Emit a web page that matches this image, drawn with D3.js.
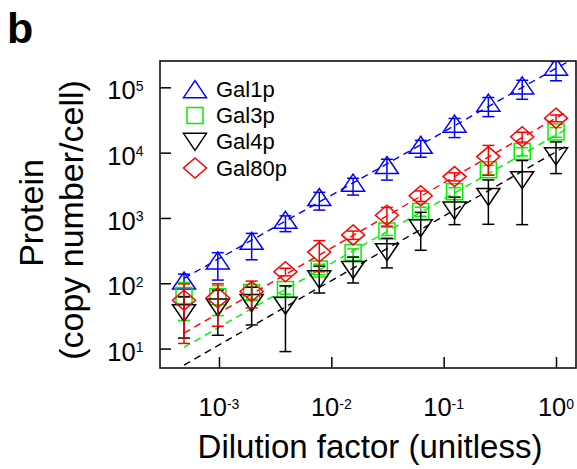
<!DOCTYPE html>
<html>
<head>
<meta charset="utf-8">
<script src="https://cdn.jsdelivr.net/npm/d3@7"></script>
<style>
  html, body { margin: 0; padding: 0; background: #fff; }
  svg { display: block; }
  text { font-family: "Liberation Sans", Arial, Helvetica, sans-serif; fill: #000; }
</style>
</head>
<body>
<script>
// dilution factors (2^-11 .. 2^0)
var dilution = [0.00048828125, 0.0009765625, 0.001953125, 0.00390625, 0.0078125,
  0.015625, 0.03125, 0.0625, 0.125, 0.25, 0.5, 1];

var seriesNames = ['Gal1p', 'Gal3p', 'Gal4p', 'Gal80p'];
var seriesColors = ['#0000ff', '#00f000', '#000000', '#ff0000'];
var seriesShapes = ['triUp', 'square', 'triDown', 'diamond'];

// mean copy number per cell
var gal1Mean = [100, 203, 405, 847, 1894, 3144, 5862, 11960, 25190, 52730, 96940, 187500];
var gal3Mean = [65, 62, 72, 80, 166, 296, 630, 1260, 2510, 5480, 10400, 20700];
var gal4Mean = [38.5, 47, 55, 50, 127, 176, 330, 770, 1430, 2310, 4180, 9680];
var gal80Mean = [55, 60, 75, 150, 300, 550, 1100, 2190, 4300, 8700, 17500, 33700];

// standard deviations
var gal1Sd = [38, 91, 176, 230, 574, 904, 2062, 3450, 8190, 17130, 31340, 61500];
var gal3Sd = [38, 30, 15, 12, 30, 40, 90, 200, 400, 900, 1500, 3500];
var gal4Sd = [24, 31, 32, 41, 56, 75, 158, 450, 640, 1510, 3390, 4900];
var gal80Sd = [43, 38, 33, 20, 150, 80, 350, 400, 600, 4200, 3000, 4000];

// fitted lines: end points
var fitX = [0.00048828125, 1.26];
var gal1Fit = [119, 244000];
var gal3Fit = [10.5, 23300];
var gal4Fit = [5.6, 12900];
var gal80Fit = [17.2, 42700];

var xTicks = [1e-3, 1e-2, 1e-1, 1];
var xTickExp = ['-3', '-2', '-1', '0'];
var yTicks = [1e1, 1e2, 1e3, 1e4, 1e5];
var yTickExp = ['1', '2', '3', '4', '5'];

var means = [gal1Mean, gal3Mean, gal4Mean, gal80Mean];
var sds = [gal1Sd, gal3Sd, gal4Sd, gal80Sd];
var fits = [gal1Fit, gal3Fit, gal4Fit, gal80Fit];

var W = 577, H = 469;
var box = {left: 160, right: 576, top: 61, bottom: 368};

var svg = d3.select('body').append('svg')
  .attr('width', W).attr('height', H);

var x = d3.scaleLog()
  .domain([Math.pow(10, -3.525), Math.pow(10, 0.178)])
  .range([box.left, box.right]);
var y = d3.scaleLog()
  .domain([Math.pow(10, 0.703), Math.pow(10, 5.403)])
  .range([box.bottom, box.top]);

svg.append('defs').append('clipPath').attr('id', 'plotClip')
  .append('rect')
  .attr('x', box.left).attr('y', box.top)
  .attr('width', box.right - box.left).attr('height', box.bottom - box.top);

// marker shapes; triangles are centred on their centroid
function shapePath(kind) {
  if (kind === 'triUp') return 'M0,-11.3L11.5,5.7L-11.5,5.7Z';
  if (kind === 'triDown') return 'M0,11.3L11.5,-5.7L-11.5,-5.7Z';
  if (kind === 'square') return 'M-8,-8H8V8H-8Z';
  return 'M0,-10L11.5,0L0,10L-11.5,0Z';
}

var plot = svg.append('g').attr('clip-path', 'url(#plotClip)');

// dashed fits
var line = d3.line().x(function(d) { return x(d[0]); }).y(function(d) { return y(d[1]); });
fits.forEach(function(f, i) {
  plot.append('path')
    .datum([[fitX[0], f[0]], [fitX[1], f[1]]])
    .attr('d', line)
    .attr('fill', 'none')
    .attr('stroke', seriesColors[i])
    .attr('stroke-width', 1.4)
    .attr('stroke-dasharray', '7,5');
});

// markers and error bars
var capHalf = 6;
var yMin = y.domain()[0];
means.forEach(function(m, i) {
  var g = plot.append('g');
  var pts = dilution.map(function(d, j) { return {x: d, m: m[j], s: sds[i][j]}; });

  g.selectAll('path.mk').data(pts).enter().append('path')
    .attr('class', 'mk')
    .attr('d', shapePath(seriesShapes[i]))
    .attr('transform', function(d) { return 'translate(' + x(d.x) + ',' + y(d.m) + ')'; })
    .attr('fill', 'none')
    .attr('stroke', seriesColors[i])
    .attr('stroke-width', 1.5);

  var eb = g.selectAll('g.eb').data(pts).enter().append('g').attr('class', 'eb')
    .attr('stroke', seriesColors[i]).attr('stroke-width', 1.5);
  eb.append('line')
    .attr('x1', function(d) { return x(d.x); }).attr('x2', function(d) { return x(d.x); })
    .attr('y1', function(d) { return y(d.m + d.s); })
    .attr('y2', function(d) { return y(Math.max(d.m - d.s, yMin * 0.5)); });
  eb.append('line')
    .attr('x1', function(d) { return x(d.x) - capHalf; }).attr('x2', function(d) { return x(d.x) + capHalf; })
    .attr('y1', function(d) { return y(d.m + d.s); }).attr('y2', function(d) { return y(d.m + d.s); });
  eb.filter(function(d) { return d.m - d.s > yMin; }).append('line')
    .attr('x1', function(d) { return x(d.x) - capHalf; }).attr('x2', function(d) { return x(d.x) + capHalf; })
    .attr('y1', function(d) { return y(d.m - d.s); }).attr('y2', function(d) { return y(d.m - d.s); });
});

// axes (inward ticks)
svg.append('g')
  .attr('transform', 'translate(0,' + box.bottom + ')')
  .call(d3.axisBottom(x).tickValues(xTicks).tickSize(-11).tickSizeOuter(0).tickFormat(''))
  .call(function(a) { a.select('.domain').remove(); a.selectAll('line').attr('stroke-width', 1.5); });
svg.append('g')
  .attr('transform', 'translate(' + box.left + ',0)')
  .call(d3.axisLeft(y).tickValues(yTicks).tickSize(-11).tickSizeOuter(0).tickFormat(''))
  .call(function(a) { a.select('.domain').remove(); a.selectAll('line').attr('stroke-width', 1.5); });

svg.append('rect')
  .attr('x', box.left).attr('y', box.top)
  .attr('width', box.right - box.left).attr('height', box.bottom - box.top)
  .attr('fill', 'none').attr('stroke', '#111').attr('stroke-width', 1.6);

// tick labels with superscripts
var xl = svg.selectAll('text.xl').data(xTicks).enter().append('text')
  .attr('class', 'xl')
  .attr('x', function(d) { return x(d); })
  .attr('y', 416)
  .attr('text-anchor', 'middle')
  .style('font-size', '25.5px')
  .text('10');
xl.append('tspan').attr('dy', -7.5).style('font-size', '14px')
  .text(function(d, i) { return xTickExp[i]; });

var yl = svg.selectAll('text.yl').data(yTicks).enter().append('text')
  .attr('class', 'yl')
  .attr('x', 143.5)
  .attr('y', function(d) { return y(d) + 12; })
  .attr('text-anchor', 'end')
  .style('font-size', '25.5px')
  .text('10');
yl.append('tspan').attr('dy', -8.5).style('font-size', '14px')
  .text(function(d, i) { return yTickExp[i]; });

// axis titles
svg.append('text')
  .attr('x', 370).attr('y', 458)
  .attr('text-anchor', 'middle')
  .style('font-size', '33px')
  .text('Dilution factor (unitless)');

svg.append('text')
  .attr('transform', 'translate(43,213) rotate(-90)')
  .attr('text-anchor', 'middle')
  .style('font-size', '34px')
  .text('Protein');
svg.append('text')
  .attr('transform', 'translate(83,220) rotate(-90)')
  .attr('text-anchor', 'middle')
  .style('font-size', '34px')
  .text('(copy number/cell)');

// panel letter
svg.append('text')
  .attr('x', 7).attr('y', 43)
  .style('font-size', '43px').style('font-weight', 'bold')
  .text('b');

// legend
var legend = svg.append('g');
var rowY = [89.5, 115.5, 141.5, 168];
var legendShapeY = [2.5, 0, -2.5, 0];
seriesNames.forEach(function(name, i) {
  legend.append('path')
    .attr('d', shapePath(seriesShapes[i]))
    .attr('transform', 'translate(195,' + (rowY[i] + legendShapeY[i]) + ')')
    .attr('fill', 'none')
    .attr('stroke', seriesColors[i])
    .attr('stroke-width', 1.5);
  legend.append('text')
    .attr('x', 216).attr('y', rowY[i] + 7.5)
    .style('font-size', '22px')
    .text(name);
});
</script>
</body>
</html>
